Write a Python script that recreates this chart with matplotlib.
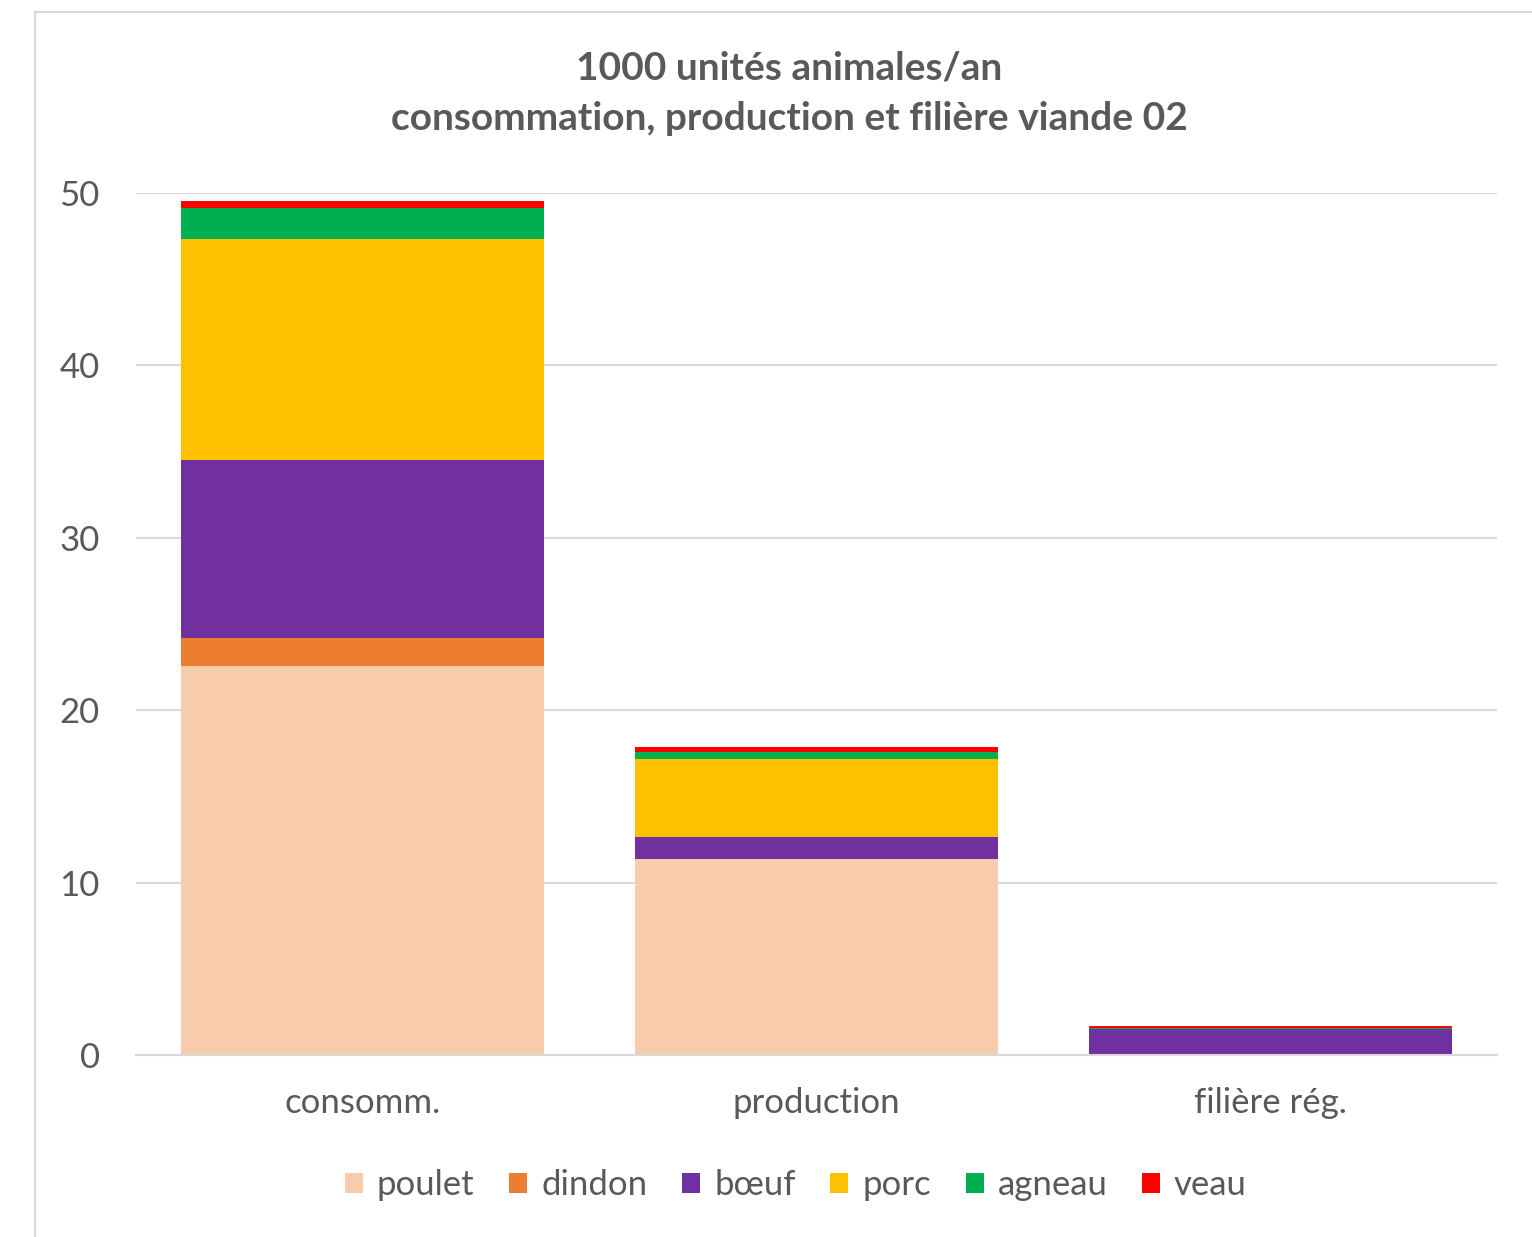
import matplotlib.pyplot as plt
from matplotlib.patches import Rectangle

plt.rcParams['font.family'] = ['Lato', 'DejaVu Sans']

categories = ['consomm.', 'production', 'filière rég.']
series = ['poulet', 'dindon', 'bœuf', 'porc', 'agneau', 'veau']
poulet = [22.56, 11.37, 0.0]
dindon = [1.63, 0.0, 0.03]
boeuf = [10.32, 1.28, 1.45]
porc = [12.82, 4.52, 0.03]
agneau = [1.80, 0.41, 0.05]
veau = [0.41, 0.29, 0.10]
colors = ['#F8CBAD', '#ED7D31', '#7030A0', '#FFC000', '#00B050', '#FF0000']

values = [poulet, dindon, boeuf, porc, agneau, veau]
txt = '#595959'
grid = '#D9D9D9'

fig = plt.figure(figsize=(15.32, 12.37), dpi=100)
ax = fig.add_axes([136 / 1532, 1 - 1055 / 1237, (1497 - 136) / 1532, (1055 - 193) / 1237])

# cadre du graphique (coin haut gauche seulement visible)
fig.patches.append(Rectangle((35 / 1532, -0.1), 1.2, 1 - 12 / 1237 + 0.1,
                             transform=fig.transFigure, fill=False,
                             edgecolor=grid, linewidth=1.5))

x = list(range(len(categories)))
bottom = [0.0] * len(categories)
for name, vals, c in zip(series, values, colors):
    ax.bar(x, vals, width=0.8, bottom=bottom, color=c, label=name, zorder=3)
    bottom = [b + v for b, v in zip(bottom, vals)]

ax.set_xlim(-0.5, 2.5)
ax.set_ylim(0, 50)
ax.set_yticks([0, 10, 20, 30, 40, 50])
ax.set_xticks(x)
ax.set_xticklabels(categories)
ax.yaxis.grid(True, color=grid, linewidth=1.5, zorder=0)
for s in ['top', 'right', 'left']:
    ax.spines[s].set_visible(False)
ax.spines['bottom'].set_color(grid)
ax.spines['bottom'].set_linewidth(1.5)
ax.spines['bottom'].set_zorder(4)
ax.tick_params(axis='both', length=0, labelsize=25, colors=txt)
ax.tick_params(axis='x', pad=23)
ax.tick_params(axis='y', pad=26)

fig.text(789 / 1532, 1 - 68 / 1237, '1000 unités animales/an', ha='center', va='center',
         fontsize=28, fontweight='bold', color=txt)
fig.text(789 / 1532, 1 - 118 / 1237, 'consommation, production et filière viande 02',
         ha='center', va='center', fontsize=28, fontweight='bold', color=txt)

fig.legend(loc='center', bbox_to_anchor=(796 / 1532, 1 - 1185 / 1237), ncol=6,
           frameon=False, fontsize=25, labelcolor=txt, handlelength=0.52,
           handleheight=0.52, handletextpad=0.4, columnspacing=1.0)

fig.savefig('out.png', dpi=100)
